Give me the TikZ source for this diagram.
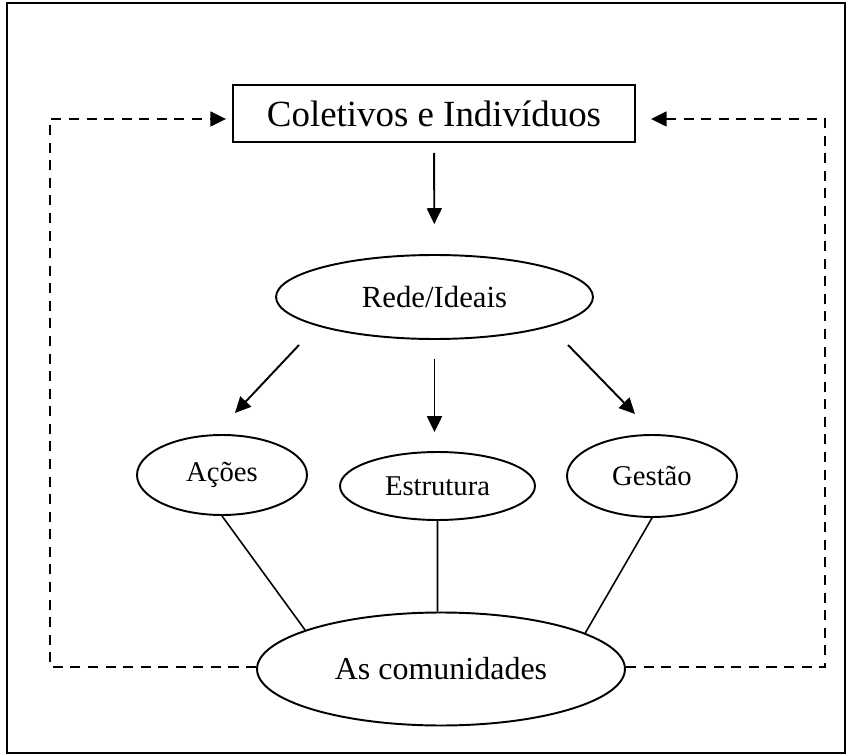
\documentclass[tikz,border=0pt]{standalone}
\usepackage{fontspec}
\setmainfont{Liberation Serif}
\usetikzlibrary{shapes.geometric,arrows.meta}

\tikzset{
  oval/.style={ellipse,draw,line width=1.1pt,inner sep=0pt},
  flow/.style={line width=1.1pt,-{Triangle[length=9pt,width=8.5pt]}},
  loopback/.style={line width=1.1pt,dash pattern=on 5.7pt off 4.3pt,-{Triangle[length=9pt,width=8.5pt]}},
  link/.style={line width=0.9pt},
}

\begin{document}
\begin{tikzpicture}[x=0.02cm,y=-0.02cm]
            \useasboundingbox (0,0) rectangle (848,756);
            \draw[line width=0.9pt] (7,3) rectangle (845,753);
            \node (ci) at (434,113.5) [draw,line width=1.1pt,inner sep=0pt,minimum width=8.04cm,minimum height=1.14cm,font=\fontsize{21}{25}\selectfont] {Coletivos e Indivíduos};
            \node (rede) at (434.5,297) [oval,minimum width=6.34cm,minimum height=1.68cm,font=\fontsize{17.5}{20}\selectfont] {Rede/Ideais};
            \node (acoes) at (222,475) [oval,minimum width=3.4cm,minimum height=1.6cm,font=\fontsize{16.3}{19}\selectfont] {Ações};
            \node (estr) at (437.5,486) [oval,minimum width=3.9cm,minimum height=1.36cm,font=\fontsize{16.3}{19}\selectfont] {Estrutura};
            \node (gestao) at (652,476) [oval,minimum width=3.4cm,minimum height=1.64cm,font=\fontsize{16.3}{19}\selectfont] {Gestão};
            \node (comun) at (441,669) [oval,minimum width=7.36cm,minimum height=2.26cm,font=\fontsize{18.2}{21}\selectfont] {As comunidades};
            % corners of the feedback loop
            \coordinate (nw) at (50,119);
            \coordinate (ne) at (825,119);
            \coordinate (sw) at (50,667);
            \coordinate (se) at (825,667);
            % free ends of the slanted arrows
            \coordinate (la) at (299,345);
            \coordinate (lb) at (235,413);
            \coordinate (ra) at (568,345);
            \coordinate (rb) at (635,414);
            \draw[flow,shorten <=0.2cm,shorten >=0.6cm] (ci) -- (rede);
            \draw[flow] (la) -- (lb);
            \draw[flow,shorten <=0.38cm,shorten >=0.38cm] (rede.south) -- (rede.south |- estr.north);
            \draw[flow] (ra) -- (rb);
            \draw[link] (acoes.south) -- (comun.164) (estr.south) -- (estr.south |- comun.north) (gestao.south) -- (comun.14);
            \draw[loopback,shorten >=0.12cm] (comun.west |- sw) -- (sw) -- (nw) -- (ci.west |- nw);
            \draw[loopback,shorten >=0.3cm] (comun.east |- se) -- (se) -- (ne) -- (ci.east |- ne);
        \end{tikzpicture}
\end{document}
